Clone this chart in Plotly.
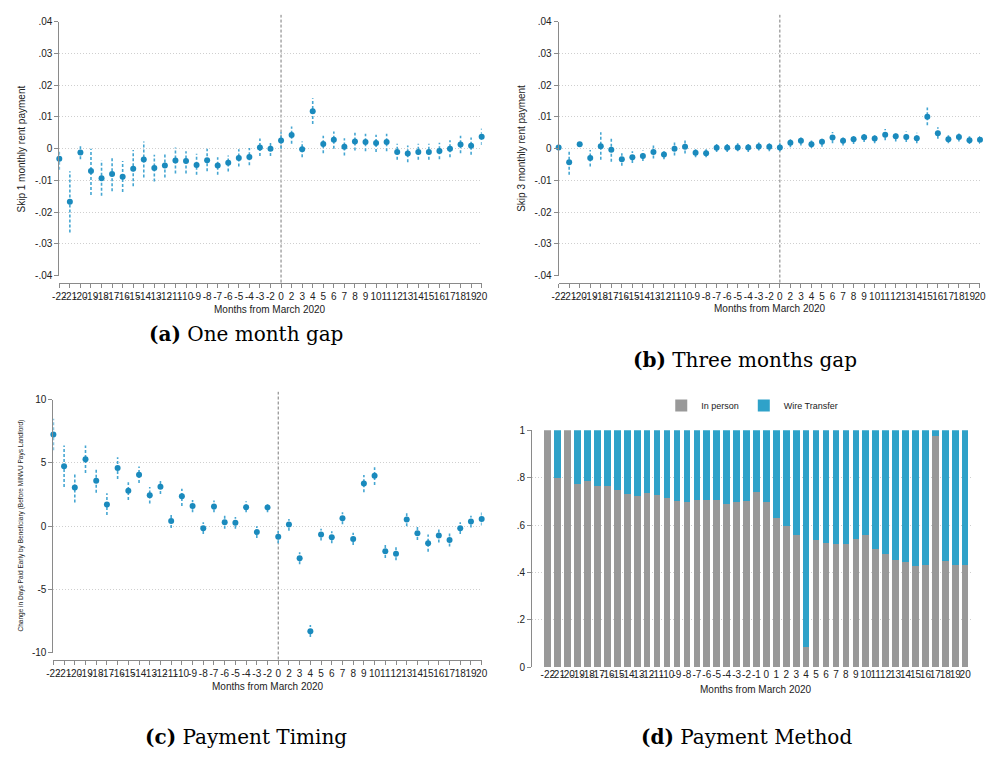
import plotly.graph_objects as go

W, H = 986, 760

# ---------------- data ----------------
months_abc = [-22, -21, -20, -19, -18, -17, -16, -15, -14, -13, -12, -11, -10, -9, -8, -7, -6, -5, -4, -3, -2,
              0, 2, 3, 4, 5, 6, 7, 8, 9, 10, 11, 12, 13, 14, 15, 16, 17, 18, 19, 20]
months_d = list(range(-22, 21))

skip1 = [-0.0032, -0.0167, -0.0012, -0.0070, -0.0093, -0.0080, -0.0088, -0.0063, -0.0034, -0.0061,
         -0.0053, -0.0037, -0.0039, -0.0051, -0.0036, -0.0053, -0.0044, -0.0029, -0.0026, 0.0004,
         0.0000, 0.0026, 0.0043, -0.0002, 0.0118, 0.0015, 0.0028, 0.0006, 0.0023, 0.0021,
         0.0018, 0.0021, -0.0010, -0.0015, -0.0010, -0.0010, -0.0007, 0.0000, 0.0013, 0.0009, 0.0038]
skip1_hi = [-0.0004, -0.0071, 0.0008, 0.0000, -0.0037, -0.0025, -0.0039, -0.0004, 0.0023, -0.0019,
            -0.0012, 0.0004, -0.0008, -0.0016, 0.0000, -0.0027, -0.0021, -0.0002, 0.0002, 0.0032,
            0.0019, 0.0052, 0.0070, 0.0023, 0.0159, 0.0041, 0.0054, 0.0033, 0.0050, 0.0047,
            0.0044, 0.0047, 0.0016, 0.0010, 0.0016, 0.0016, 0.0019, 0.0027, 0.0041, 0.0035, 0.0064]
skip1_lo = [-0.0066, -0.0264, -0.0033, -0.0146, -0.0148, -0.0134, -0.0136, -0.0118, -0.0091, -0.0103,
            -0.0091, -0.0078, -0.0078, -0.0082, -0.0071, -0.0082, -0.0072, -0.0056, -0.0052, -0.0023,
            -0.0023, 0.0000, 0.0016, -0.0027, 0.0078, -0.0014, 0.0000, -0.0021, -0.0006, -0.0008,
            -0.0010, -0.0008, -0.0035, -0.0043, -0.0035, -0.0035, -0.0033, -0.0027, -0.0014, -0.0019, 0.0012]

skip3 = [0.0004, -0.0043, 0.0014, -0.0029, 0.0008, -0.0003, -0.0033, -0.0027, -0.0023, -0.0010,
         -0.0018, 0.0000, 0.0006, -0.0013, -0.0014, 0.0003, 0.0003, 0.0004, 0.0004, 0.0007,
         0.0006, 0.0004, 0.0019, 0.0025, 0.0014, 0.0022, 0.0035, 0.0025, 0.0030, 0.0036,
         0.0032, 0.0044, 0.0039, 0.0037, 0.0033, 0.0101, 0.0049, 0.0030, 0.0037, 0.0027, 0.0028]
skip3_hi = [0.0012, -0.0008, 0.0020, -0.0004, 0.0052, 0.0031, -0.0014, -0.0008, -0.0006, 0.0010,
            -0.0004, 0.0021, 0.0027, 0.0000, -0.0002, 0.0016, 0.0016, 0.0017, 0.0017, 0.0021,
            0.0021, 0.0019, 0.0033, 0.0039, 0.0026, 0.0035, 0.0053, 0.0039, 0.0044, 0.0050,
            0.0048, 0.0062, 0.0054, 0.0054, 0.0050, 0.0130, 0.0068, 0.0044, 0.0051, 0.0039, 0.0042]
skip3_lo = [-0.0004, -0.0082, 0.0008, -0.0056, -0.0035, -0.0041, -0.0054, -0.0045, -0.0039, -0.0031,
            -0.0033, -0.0021, -0.0015, -0.0027, -0.0027, -0.0010, -0.0010, -0.0008, -0.0010, -0.0006,
            -0.0008, -0.0008, 0.0005, 0.0010, 0.0002, 0.0006, 0.0017, 0.0010, 0.0015, 0.0021,
            0.0017, 0.0027, 0.0023, 0.0021, 0.0017, 0.0074, 0.0031, 0.0017, 0.0023, 0.0015, 0.0015]

timing = [7.25, 4.74, 3.06, 5.28, 3.58, 1.71, 4.59, 2.80, 4.07, 2.44,
          3.11, 0.41, 2.36, 1.60, -0.16, 1.55, 0.31, 0.26, 1.50, -0.47,
          1.48, -0.83, 0.13, -2.54, -8.32, -0.67, -0.88, 0.62, -1.01, 3.37,
          3.99, -1.99, -2.18, 0.52, -0.57, -1.35, -0.73, -1.09, -0.16, 0.36, 0.57]
timing_hi = [8.50, 6.37, 4.25, 6.37, 4.46, 2.60, 5.44, 3.47, 4.72, 3.10,
             3.63, 0.88, 2.95, 2.07, 0.31, 2.02, 0.83, 0.72, 1.97, 0.00,
             1.87, -0.36, 0.57, -2.07, -7.82, -0.21, -0.41, 1.09, -0.52, 4.04,
             4.66, -1.50, -1.66, 1.04, -0.05, -0.67, -0.21, -0.57, 0.31, 0.83, 1.09]
timing_lo = [6.00, 3.10, 1.87, 4.20, 2.64, 0.88, 3.73, 2.07, 3.42, 1.80,
             2.54, -0.15, 1.60, 1.09, -0.62, 1.09, -0.20, -0.21, 1.09, -0.93,
             1.09, -1.35, -0.36, -3.01, -8.76, -1.14, -1.35, 0.16, -1.50, 2.69,
             3.26, -2.52, -2.70, 0.00, -1.09, -2.02, -1.30, -1.61, -0.62, -0.10, 0.05]

in_person = [1.0, 0.80, 1.0, 0.773, 0.785, 0.766, 0.763, 0.748, 0.732, 0.724,
             0.734, 0.727, 0.716, 0.702, 0.699, 0.706, 0.706, 0.706, 0.689, 0.699,
             0.703, 0.741, 0.698, 0.631, 0.596, 0.560, 0.087, 0.537, 0.526, 0.521,
             0.519, 0.540, 0.560, 0.499, 0.477, 0.454, 0.445, 0.429, 0.431, 0.976,
             0.448, 0.431, 0.430]
wire_transfer = [0.0, 0.20, 0.0, 0.227, 0.215, 0.234, 0.237, 0.252, 0.268, 0.276,
                 0.266, 0.273, 0.284, 0.298, 0.301, 0.294, 0.294, 0.294, 0.311, 0.301,
                 0.297, 0.259, 0.302, 0.369, 0.404, 0.440, 0.913, 0.463, 0.474, 0.479,
                 0.481, 0.460, 0.440, 0.501, 0.523, 0.546, 0.555, 0.571, 0.569, 0.024,
                 0.552, 0.569, 0.570]

yt_skip = [-0.04, -0.03, -0.02, -0.01, 0, 0.01, 0.02, 0.03, 0.04]
yt_skip_text = ["-.04", "-.03", "-.02", "-.01", "0", ".01", ".02", ".03", ".04"]
yt_timing = [-10, -5, 0, 5, 10]
yt_timing_text = ["-10", "-5", "0", "5", "10"]
yt_share = [0, 0.2, 0.4, 0.6, 0.8, 1]
yt_share_text = ["0", ".2", ".4", ".6", ".8", "1"]

xlab_abc = [str(m) for m in months_abc]
xlab_d = [str(m) for m in months_d]

# ---------------- style ----------------
MARK = "#1a8abd"
CI = "#45a6d2"
GRAY_BAR = "#999999"
BLUE_BAR = "#2fa2c9"
AX = "#8a8a8a"
GRID = "#cfcfcf"
TXT = "#222222"
SANS = "Liberation Sans, Arial, sans-serif"
SERIF = "DejaVu Serif, serif"


def px_x(x):
    return x / W


def px_y(y):
    return 1 - y / H


fig = go.Figure()

idx_abc = list(range(len(months_abc)))
idx_d = list(range(len(months_d)))


def add_coef(vals, lo, hi, xa, ya):
    cx, cy = [], []
    for i, (l, h) in enumerate(zip(lo, hi)):
        cx += [i, i, None]
        cy += [l, h, None]
    fig.add_trace(go.Scatter(x=cx, y=cy, mode="lines", xaxis=xa, yaxis=ya,
                             line=dict(color=CI, width=1.6, dash="3px,2px"),
                             showlegend=False, hoverinfo="skip", cliponaxis=False))
    fig.add_trace(go.Scatter(x=idx_abc, y=vals, mode="markers", xaxis=xa, yaxis=ya,
                             marker=dict(color=MARK, size=6, symbol="circle"),
                             showlegend=False, cliponaxis=False))


add_coef(skip1, skip1_lo, skip1_hi, "x", "y")
add_coef(skip3, skip3_lo, skip3_hi, "x2", "y2")
add_coef(timing, timing_lo, timing_hi, "x3", "y3")

fig.add_trace(go.Bar(x=idx_d, y=in_person, name="In person", xaxis="x4", yaxis="y4",
                     marker=dict(color=GRAY_BAR, line=dict(width=0))))
fig.add_trace(go.Bar(x=idx_d, y=wire_transfer, name="Wire Transfer", xaxis="x4", yaxis="y4",
                     marker=dict(color=BLUE_BAR, line=dict(width=0))))

tickfont = dict(family=SANS, size=10, color=TXT)


def xaxis_coef(domain, anchor, pos, rng):
    return dict(domain=domain, anchor="free", position=pos, range=rng,
                tickmode="array", tickvals=idx_abc, ticktext=xlab_abc, tickangle=0,
                ticks="outside", ticklen=4, tickcolor=AX, tickwidth=1,
                showline=True, linecolor=AX, linewidth=1, showgrid=False, zeroline=False,
                tickfont=tickfont, fixedrange=True)


def yaxis_gen(domain, anchor, rng, tv, tt):
    return dict(domain=domain, anchor=anchor, range=rng, tickmode="array", tickvals=tv, ticktext=tt,
                ticks="outside", ticklen=4, tickcolor=AX, tickwidth=1,
                showline=True, linecolor=AX, linewidth=1,
                showgrid=True, gridcolor=GRID, griddash="1px,2px", gridwidth=1,
                zeroline=False, tickfont=tickfont, fixedrange=True)


dom_a_x = [px_x(53), px_x(481)]
dom_b_x = [px_x(559), 1.0]
dom_c_x = [px_x(47), px_x(481)]
dom_d_x = [px_x(532), px_x(977)]
dom_ab_y = [px_y(274), px_y(16)]
dom_c_y = [px_y(657), px_y(400)]
dom_d_y = [px_y(672), px_y(431)]

fig.update_layout(
    width=W, height=H, margin=dict(l=0, r=0, t=0, b=0),
    paper_bgcolor="white", plot_bgcolor="white",
    barmode="stack", bargap=0.33,
    font=dict(family=SANS, color=TXT),
    xaxis=xaxis_coef(dom_a_x, "y", px_y(281), [0, 40]),
    yaxis=yaxis_gen(dom_ab_y, "x", [-0.04, 0.04], yt_skip, yt_skip_text),
    xaxis2=xaxis_coef(dom_b_x, "y2", px_y(281), [0, 40]),
    yaxis2=yaxis_gen(dom_ab_y, "x2", [-0.04, 0.04], yt_skip, yt_skip_text),
    xaxis3=xaxis_coef(dom_c_x, "y3", px_y(664), [0, 40]),
    yaxis3=yaxis_gen(dom_c_y, "x3", [-10, 10], yt_timing, yt_timing_text),
    xaxis4=dict(domain=dom_d_x, anchor="y4", range=[-1.59, 42.6], tickmode="array",
                tickvals=idx_d, ticktext=xlab_d, tickangle=0, ticks="", showline=False,
                showgrid=False, zeroline=False, tickfont=tickfont, fixedrange=True),
    yaxis4=yaxis_gen(dom_d_y, "x4", [0, 1], yt_share, yt_share_text),
    legend=dict(orientation="h", x=px_x(663), y=px_y(406), xanchor="left", yanchor="middle",
                font=dict(family=SANS, size=9, color=TXT), bgcolor="rgba(0,0,0,0)",
                itemwidth=30, traceorder="normal"),
)

# vertical dashed reference lines at month 0
zi = months_abc.index(0)
for xref, y0, y1 in [("x", 281, 9), ("x2", 281, 9), ("x3", 664, 392)]:
    fig.add_shape(type="line", xref=xref, yref="paper", x0=zi, x1=zi, y0=px_y(y0), y1=px_y(y1),
                  line=dict(color="#7a7a7a", width=1, dash="3px,2px"), layer="below")

ann = []
# x-axis titles
for cx, cy in [(267, 308), (773, 307), (264, 691), (759, 694)]:
    ann.append(dict(text="Months from March 2020", x=px_x(cx), y=px_y(cy), xref="paper", yref="paper",
                    showarrow=False, xanchor="center", yanchor="middle",
                    font=dict(family=SANS, size=10, color=TXT)))
# y-axis titles
ann.append(dict(text="Skip 1 monthly rent payment", x=px_x(15), y=px_y(145), xref="paper", yref="paper",
                showarrow=False, textangle=-90, xanchor="center", yanchor="middle",
                font=dict(family=SANS, size=10, color=TXT)))
ann.append(dict(text="Skip 3 monthly rent payment", x=px_x(522), y=px_y(145), xref="paper", yref="paper",
                showarrow=False, textangle=-90, xanchor="center", yanchor="middle",
                font=dict(family=SANS, size=10, color=TXT)))
ann.append(dict(text="Change in Days Paid Early by Beneficiary (Before MINVU Pays Landlord)",
                x=px_x(14), y=px_y(528), xref="paper", yref="paper",
                showarrow=False, textangle=-90, xanchor="center", yanchor="middle",
                font=dict(family=SANS, size=6.5, color=TXT)))
# panel captions
for txt, cx, cy in [("<b>(a)</b> One month gap", 242, 333), ("<b>(b)</b> Three months gap", 748, 360),
                    ("<b>(c)</b> Payment Timing", 242, 743), ("<b>(d)</b> Payment Method", 749, 743)]:
    ann.append(dict(text=txt, x=px_x(cx), y=px_y(cy), xref="paper", yref="paper", showarrow=False,
                    xanchor="center", yanchor="middle", font=dict(family=SERIF, size=20, color="#000000")))

fig.update_layout(annotations=ann)

fig.write_html("out.html")
